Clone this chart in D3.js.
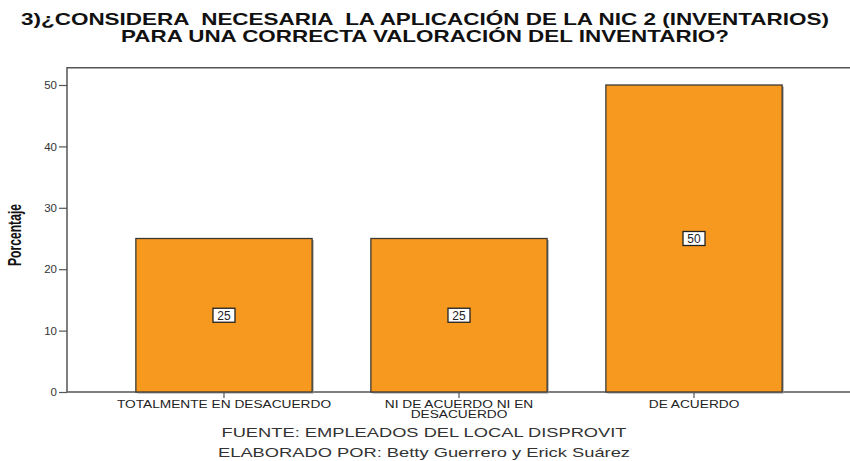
<!DOCTYPE html>
<html>
<head>
<meta charset="utf-8">
<script src="https://cdn.jsdelivr.net/npm/d3@7"></script>
<style>
  body { margin: 0; background: #fff; }
  text { font-family: "Liberation Sans", Arial, sans-serif; }
</style>
</head>
<body>
<div class="content"></div>
<script>
// chart data
var categories = ["TOTALMENTE EN DESACUERDO", "NI DE ACUERDO NI EN DESACUERDO", "DE ACUERDO"];
var catLines = [["TOTALMENTE EN DESACUERDO"], ["NI DE ACUERDO NI EN", "DESACUERDO"], ["DE ACUERDO"]];
var values = [25, 25, 50];
var yTicks = [0, 10, 20, 30, 40, 50];
var titleLines = ["3)¿CONSIDERA  NECESARIA  LA APLICACIÓN DE LA NIC 2 (INVENTARIOS)",
                  "PARA UNA CORRECTA VALORACIÓN DEL INVENTARIO?"];
var footLines = ["FUENTE: EMPLEADOS DEL LOCAL DISPROVIT",
                 "ELABORADO POR: Betty Guerrero y Erick Suárez"];

var W = 850, H = 461;
var svg = d3.select(".content")
    .append("svg")
    .attr("width", W)
    .attr("height", H);

// scales
var x = d3.scaleBand()
    .domain(categories)
    .range([67, 851])
    .paddingInner(0.25)
    .paddingOuter(0.293);

var y = d3.scaleLinear()
    .domain([0, 50])
    .range([392, 85]);

// title
svg.append("g").selectAll("text")
    .data(titleLines)
    .enter().append("text")
    .attr("x", 425)
    .attr("y", function(d, i) { return 25 + i * 17; })
    .attr("text-anchor", "middle")
    .style("font-size", "16.5px")
    .style("font-weight", "bold")
    .style("white-space", "pre")
    .style("fill", "#111")
    .attr("textLength", function(d, i) { return i == 0 ? 808 : 608; })
    .attr("lengthAdjust", "spacingAndGlyphs")
    .text(function(d) { return d; });

// frame (left, top, bottom)
svg.append("path")
    .attr("d", "M851," + y(52.8) + "H67V392H851")
    .attr("fill", "none")
    .attr("stroke", "#555")
    .attr("stroke-width", 1.5);

// Y axis
var yAxis = svg.append("g")
    .attr("transform", "translate(67,0)")
    .call(d3.axisLeft(y).tickValues(yTicks).tickSize(8).tickSizeOuter(0));
yAxis.select(".domain").remove();
yAxis.selectAll("line").attr("stroke", "#555").attr("stroke-width", 1.2);
yAxis.selectAll("text")
    .attr("x", -10)
    .style("font-size", "11.5px")
    .style("font-family", "'Liberation Sans', Arial, sans-serif")
    .style("fill", "#333");

// Y label
svg.append("text")
    .attr("transform", "translate(21,235) rotate(-90)")
    .attr("text-anchor", "middle")
    .style("font-size", "18px")
    .style("font-weight", "bold")
    .style("fill", "#111")
    .attr("textLength", 62)
    .attr("lengthAdjust", "spacingAndGlyphs")
    .text("Porcentaje");

// bars
var bars = svg.append("g").selectAll("g")
    .data(values)
    .enter().append("g");

bars.append("rect")
    .attr("x", function(d, i) { return x(categories[i]) + 1.5; })
    .attr("y", function(d) { return y(d) + 1.5; })
    .attr("width", x.bandwidth())
    .attr("height", function(d) { return y(0) - y(d); })
    .attr("fill", "#999");

bars.append("rect")
    .attr("x", function(d, i) { return x(categories[i]); })
    .attr("y", function(d) { return y(d); })
    .attr("width", x.bandwidth())
    .attr("height", function(d) { return y(0) - y(d); })
    .attr("fill", "#F7991F")
    .attr("stroke", "#3d3a36")
    .attr("stroke-width", 1.3);

// value labels
bars.append("rect")
    .attr("x", function(d, i) { return x(categories[i]) + x.bandwidth() / 2 - 11; })
    .attr("y", function(d) { return y(d / 2) - 7; })
    .attr("width", 22)
    .attr("height", 14)
    .attr("fill", "#fff")
    .attr("stroke", "#222")
    .attr("stroke-width", 1.3);

bars.append("text")
    .attr("x", function(d, i) { return x(categories[i]) + x.bandwidth() / 2; })
    .attr("y", function(d) { return y(d / 2) + 4.5; })
    .attr("text-anchor", "middle")
    .style("font-size", "12px")
    .style("fill", "#222")
    .text(function(d) { return d; });

// X axis ticks and labels
var xg = svg.append("g").selectAll("g")
    .data(categories)
    .enter().append("g")
    .attr("transform", function(d) { return "translate(" + (x(d) + x.bandwidth() / 2) + ",392)"; });

xg.append("line")
    .attr("y1", 0)
    .attr("y2", 6)
    .attr("stroke", "#555")
    .attr("stroke-width", 1.2);

xg.selectAll("text")
    .data(function(d, i) { return catLines[i]; })
    .enter().append("text")
    .attr("x", 0)
    .attr("y", function(d, i) { return 16 + i * 9.5; })
    .attr("text-anchor", "middle")
    .style("font-size", "10px")
    .style("fill", "#222")
    .text(function(d) { return d; })
    .each(function() {
        // the reference font is drawn wider than Liberation Sans
        var len = this.getComputedTextLength();
        d3.select(this).attr("textLength", len * 1.37).attr("lengthAdjust", "spacingAndGlyphs");
    });

// footer
svg.append("g").selectAll("text")
    .data(footLines)
    .enter().append("text")
    .attr("x", 424)
    .attr("y", function(d, i) { return 437 + i * 20; })
    .attr("text-anchor", "middle")
    .style("font-size", "13px")
    .style("fill", "#333")
    .attr("textLength", function(d, i) { return i == 0 ? 405 : 412; })
    .attr("lengthAdjust", "spacingAndGlyphs")
    .text(function(d) { return d; });
</script>
</body>
</html>
